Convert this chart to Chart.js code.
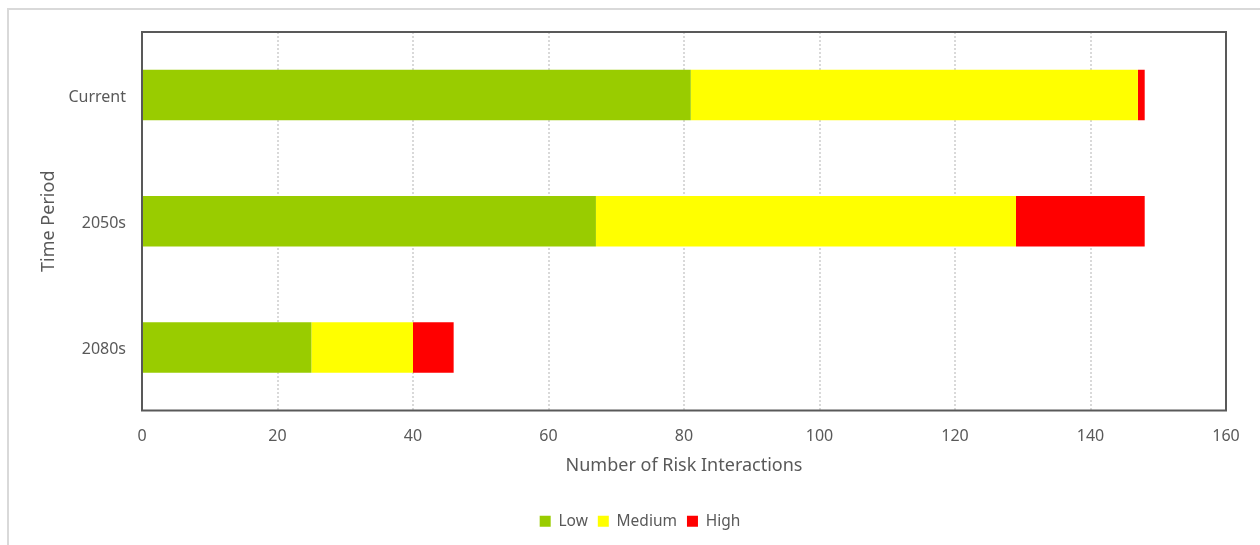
<!DOCTYPE html>
<html>
<head>
<meta charset="utf-8">
<script src="https://cdn.jsdelivr.net/npm/chart.js@4"></script>
<style>
  html, body { margin: 0; padding: 0; background: #ffffff; }
  #wrap { position: relative; width: 1260px; height: 545px; overflow: hidden; }
  #frame { position: absolute; left: 7px; top: 8px; width: 1300px; height: 600px;
           border-top: 2px solid #d9d9d9; border-left: 2px solid #d9d9d9; box-sizing: border-box; }
  #c { position: absolute; left: 0; top: 0; }
</style>
</head>
<body>
<div id="wrap">
  <div id="frame"></div>
  <canvas id="c" width="1260" height="545"></canvas>
</div>
<script>
const categories = ['Current', '2050s', '2080s'];
const lowValues = [81, 67, 25];
const mediumValues = [66, 62, 15];
const highValues = [1, 19, 6];
const xTicks = [0, 20, 40, 60, 80, 100, 120, 140, 160];
const xTitle = 'Number of Risk Interactions';
const yTitle = 'Time Period';

const FONT = '"Noto Sans", sans-serif';
const TXT = '#595959';

const plotBorder = {
  id: 'plotBorder',
  afterDatasetsDraw(chart) {
    const a = chart.chartArea, ctx = chart.ctx;
    ctx.save();
    ctx.strokeStyle = '#595959';
    ctx.lineWidth = 2;
    ctx.strokeRect(a.left, a.top, a.right - a.left, a.bottom - a.top);
    ctx.restore();
  }
};

new Chart(document.getElementById('c'), {
  type: 'bar',
  data: {
    labels: categories,
    datasets: [
      { label: 'Low', data: lowValues, backgroundColor: '#99CC00' },
      { label: 'Medium', data: mediumValues, backgroundColor: '#FFFF00' },
      { label: 'High', data: highValues, backgroundColor: '#FF0000' }
    ]
  },
  options: {
    indexAxis: 'y',
    responsive: false,
    animation: false,
    events: [],
    categoryPercentage: 1,
    barPercentage: 0.4,
    layout: { padding: { top: 32, right: 0, left: 20, bottom: 6 } },
    plugins: {
      tooltip: { enabled: false },
      legend: {
        position: 'bottom',
        labels: {
          boxWidth: 11, boxHeight: 11, padding: 10,
          color: TXT, font: { family: FONT, size: 15.5 }
        }
      }
    },
    scales: {
      x: {
        stacked: true,
        min: 0, max: 160,
        afterBuildTicks(s) { s.ticks = xTicks.map(v => ({ value: v })); },
        afterFit(s) { s.height = 93; },
        border: { display: false, dash: [2, 2] },
        grid: {
          drawTicks: false,
          color: (ctx) => (ctx.tick && (ctx.tick.value === 0 || ctx.tick.value === 160)) ? 'rgba(0,0,0,0)' : '#d9d9d9',
          lineWidth: 2
        },
        ticks: { padding: 16, color: TXT, font: { family: FONT, size: 16 } },
        title: {
          display: true, text: xTitle, color: TXT,
          font: { family: FONT, size: 18 }, padding: { top: 0, bottom: 27 }
        }
      },
      y: {
        stacked: true,
        afterFit(s) { s.width = 122; },
        border: { display: false },
        grid: { display: false, drawTicks: false },
        ticks: { padding: 16, labelOffset: 2, color: TXT, font: { family: FONT, size: 16 } },
        title: {
          display: true, text: yTitle, color: TXT,
          font: { family: FONT, size: 18 }, padding: { top: 18, bottom: 0 }
        }
      },
      gap: {
        type: 'linear',
        position: 'right',
        display: true,
        afterFit(s) { s.width = 34; },
        border: { display: false },
        grid: { display: false, drawTicks: false },
        ticks: { display: false }
      }
    }
  },
  plugins: [plotBorder]
});
</script>
</body>
</html>
